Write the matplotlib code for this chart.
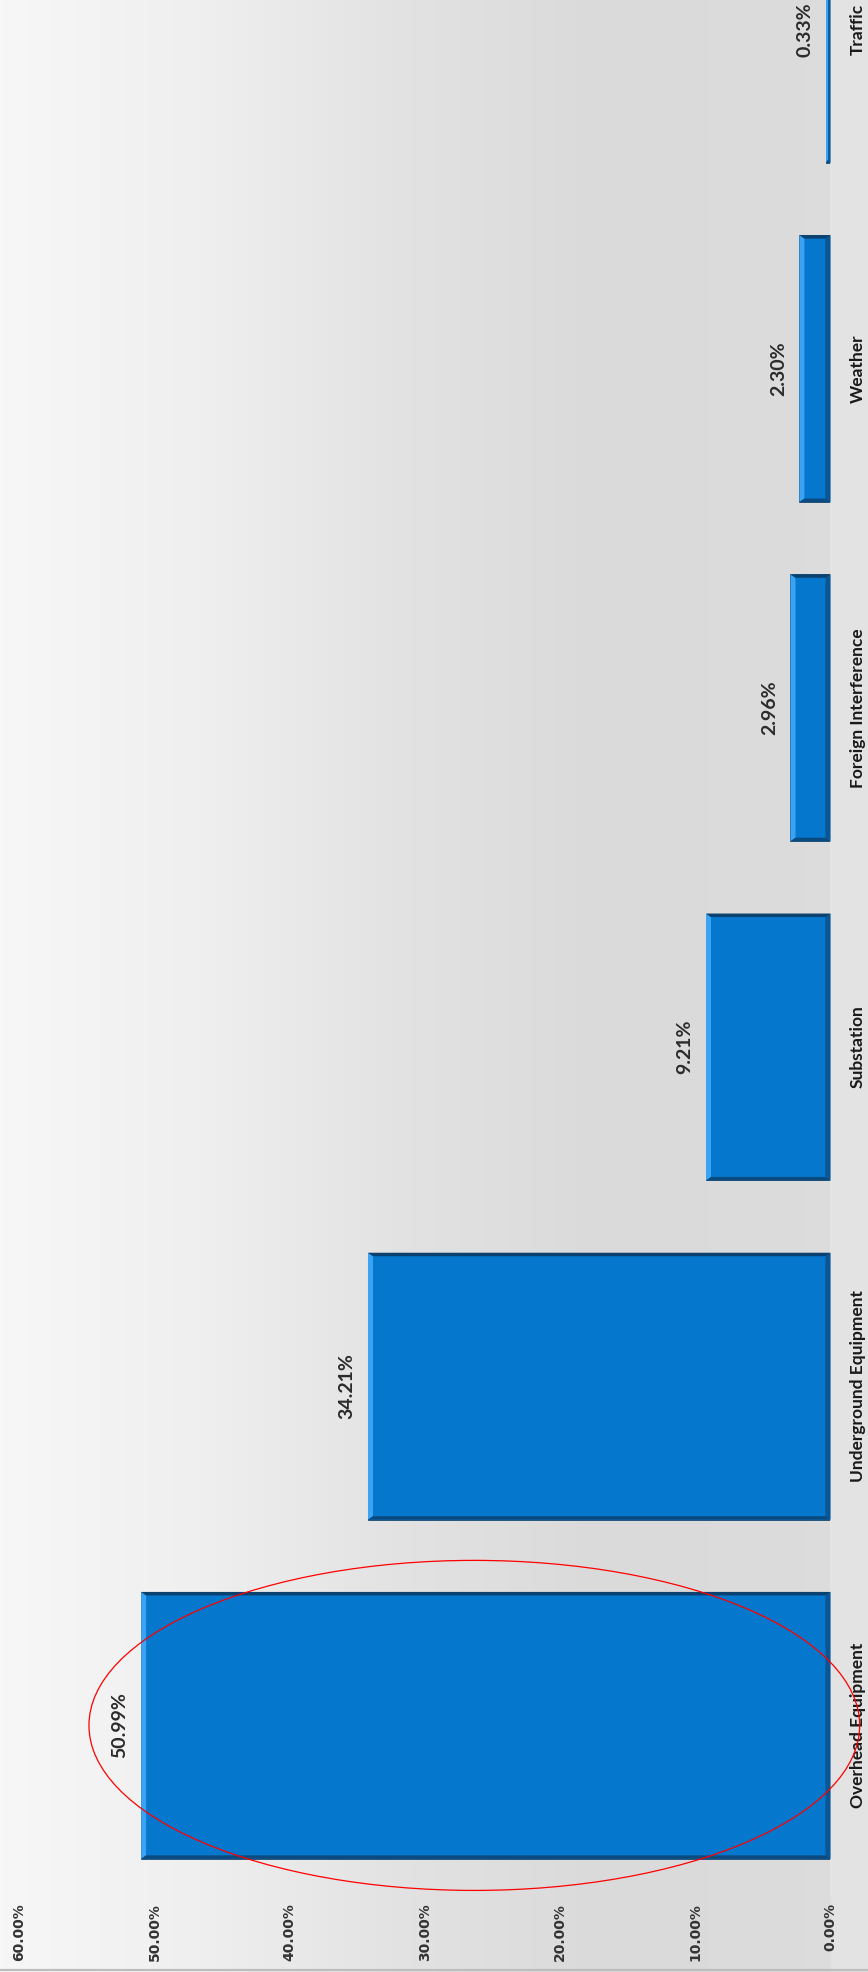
import numpy as np
import matplotlib
matplotlib.use('Agg')
import matplotlib.pyplot as plt
from matplotlib.patches import Polygon, Ellipse

# Outage causes, share of events (%)
categories = ['Overhead Equipment', 'Underground Equipment', 'Substation',
              'Foreign Interference', 'Weather', 'Traffic']
shares = [50.99, 34.21, 9.21, 2.96, 2.30, 0.33]
tick_vals = [0, 10, 20, 30, 40, 50, 60]

W, H, DPI = 868, 1972, 100
fig = plt.figure(figsize=(W / DPI, H / DPI), dpi=DPI)

# grey gradient behind everything
bg = fig.add_axes([0, 0, 1, 1])
cols = np.arange(W)
shade = np.interp(cols, [0, 200, 400, 600, 800, 829, 833, 867],
                  [0.969, 0.937, 0.888, 0.855, 0.862, 0.866, 0.893, 0.893])
bg.imshow(np.repeat(shade[None, :, None], 3, axis=2), aspect='auto',
          extent=[0, 1, 0, 1], interpolation='bilinear')
bg.axis('off')
bg.plot([0, 1], [0.0008, 0.0008], color='#bdbdbd', lw=1.6, transform=bg.transAxes)

left_px, base_px, bottom_px, step_px = 19.3, 830.5, 77.0, 339.2
ax = fig.add_axes([left_px / W, bottom_px / H, (base_px - left_px) / W,
                   6 * step_px / H])
ax.patch.set_visible(False)
ax.set_xlim(60, 0)
ax.set_ylim(-0.5, 5.5)

bar_h = 0.787
ypos = np.arange(len(categories))

# pixel -> data sizes for the bevel
sx = ax.bbox.width / 60.0
sy = ax.bbox.height / 6.0
bev_x, bev_y = 5.0 / sx, 3.5 / sy

for i, v in zip(ypos, shares):
    y0, y1 = i - bar_h / 2, i + bar_h / 2
    ax.barh(i, v, height=bar_h, color='#0577CC', edgecolor='#0b3558',
            linewidth=0.5, zorder=2)
    bx = min(bev_x, v / 2.0)
    faces = [
        ([(v, y0), (v, y1), (v - bx, y1 - bev_y), (v - bx, y0 + bev_y)], '#3aa3f4'),
        ([(0, y0), (0, y1), (bx, y1 - bev_y), (bx, y0 + bev_y)], '#0a5593'),
        ([(v, y1), (0, y1), (bx, y1 - bev_y), (v - bx, y1 - bev_y)], '#0b416f'),
        ([(v, y0), (0, y0), (bx, y0 + bev_y), (v - bx, y0 + bev_y)], '#0a4a7f'),
    ]
    for pts, c in faces:
        ax.add_patch(Polygon(pts, closed=True, facecolor=c, edgecolor='none', zorder=3))
    ax.annotate(f'{v:.2f}%', xy=(v, i), xytext=(-9, 0), textcoords='offset points',
                rotation=90, ha='right', va='center', fontsize=14,
                fontweight='bold', family=['Lato', 'DejaVu Sans'], color='#2b2b2b')

# category names on the right of the baseline
for i, name in zip(ypos, categories):
    ax.annotate(name, xy=(0, i), xytext=(14, 0), textcoords='offset points',
                rotation=90, ha='left', va='center', fontsize=12.5,
                fontweight='bold', family=['Lato', 'DejaVu Sans'], color='#1a1a1a',
                annotation_clip=False)

ax.set_xticks(tick_vals)
ax.set_xticklabels([f'{t:.2f}%' for t in tick_vals], rotation=90, fontsize=10,
                   fontweight='bold', color='#333333')
ax.tick_params(axis='x', length=0, pad=6)
ax.set_yticks([])
for s in ['top', 'bottom', 'left']:
    ax.spines[s].set_visible(False)
ax.spines['right'].set_color('#e6e6e6')
ax.spines['right'].set_linewidth(1.2)

# highlight around the largest cause
ax.add_patch(Ellipse((shares[0] / 2 + 0.85, ypos[0]), width=shares[0] * 1.118,
                     height=0.973, fill=False, edgecolor='red', lw=0.9,
                     zorder=5, clip_on=False))

fig.savefig('out.png', dpi=DPI)
